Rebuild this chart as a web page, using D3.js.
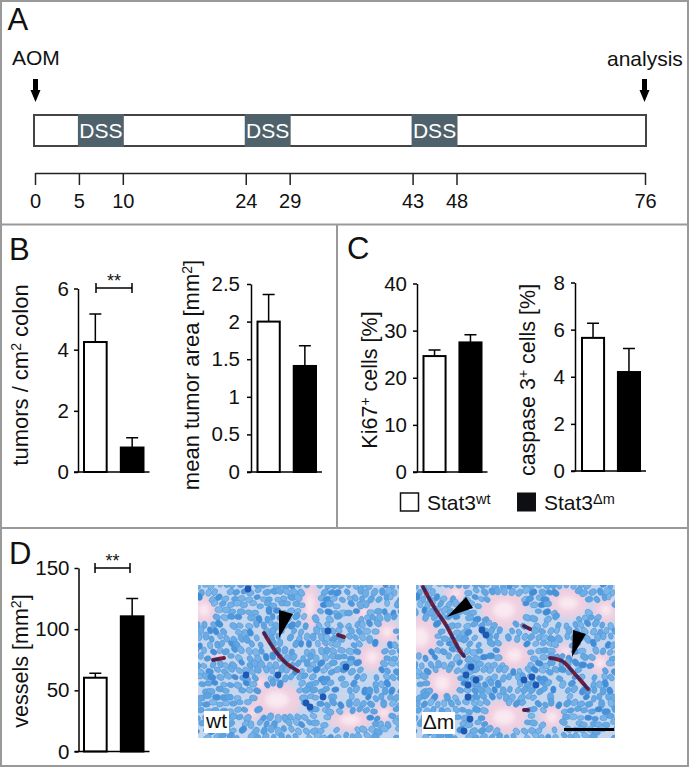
<!DOCTYPE html>
<html>
<head>
<meta charset="utf-8">
<script src="https://cdn.jsdelivr.net/npm/d3@7"></script>
<style>
  body { margin: 0; background: #fff; }
  svg { display: block; }
  text { font-family: "Liberation Sans", Arial, sans-serif; fill: #111; }
</style>
</head>
<body>
<div id="chart"></div>
<script>
// schedule
const days = [0, 5, 10, 24, 29, 43, 48, 76]
const dssCycles = [[5, 10], [24, 29], [43, 48]]

// bars, always [wt, dm]
const genotypes = ['wt', 'dm']
const tumorsMean = [4.25, 0.8]
const tumorsTop = [5.17, 1.12]
const areaMean = [2.0, 1.41]
const areaTop = [2.36, 1.68]
const ki67Mean = [24.6, 27.5]
const ki67Top = [25.9, 29.1]
const caspaseMean = [5.65, 4.2]
const caspaseTop = [6.27, 5.2]
const vesselsMean = [60.3, 110.5]
const vesselsTop = [64, 125]

// micrograph layout, px inside each photo: [cx, cy, rx, ry]
const wtLumens = [[166, 27, 6, 6], [189, 47, 9, 9], [174, 72, 11, 11], [62, 98, 6, 6], [54, 128, 5, 6], [6, 25, 10, 12], [79, 115, 22, 15], [152, 135, 18, 9], [186, 128, 8, 7], [112, 20, 6, 22], [20, 70, 4, 4], [130, 60, 3, 3]]
const dmLumens = [[4, 52, 16, 18], [88, 25, 20, 16], [152, 18, 18, 12], [98, 70, 14, 12], [26, 98, 14, 14], [88, 132, 20, 14], [136, 132, 10, 10], [184, 78, 9, 9], [190, 25, 10, 10], [40, 8, 8, 6], [150, 66, 8, 5]]
const wtVessels = [[[66, 48], [76, 64], [88, 78], [100, 86]], [[15, 75], [26, 73]], [[140, 50], [146, 52]]]
const dmVessels = [[[7, 2], [18, 22], [30, 40], [44, 66], [48, 71]], [[134, 73], [146, 76], [158, 88], [172, 104]], [[108, 41], [114, 44]], [[108, 125], [112, 125]]]
const wtDarkSpots = [[50, 4], [125, 112], [108, 118], [148, 82], [48, 90], [130, 46], [112, 122], [80, 90]]
const dmDarkSpots = [[66, 45], [50, 90], [52, 112], [54, 134], [108, 95], [116, 92], [52, 100], [48, 146], [55, 82], [60, 95], [70, 50], [120, 100]]

const width = 690
const height = 768

const svg = d3.select('#chart').append('svg')
  .attr('width', width)
  .attr('height', height)

let defs = svg.append('defs')
defs.append('filter').attr('id', 'soft')
  .attr('x', '-10%').attr('y', '-10%').attr('width', '120%').attr('height', '120%')
  .append('feGaussianBlur').attr('stdDeviation', 0.65)
defs.append('filter').attr('id', 'haze')
  .attr('x', '-30%').attr('y', '-30%').attr('width', '160%').attr('height', '160%')
  .append('feGaussianBlur').attr('stdDeviation', 2.5)

// panel frame
const frame = svg.append('g').attr('stroke', '#999').attr('stroke-width', 2).attr('fill', 'none')
frame.append('rect').attr('x', 1).attr('y', 1).attr('width', 687).attr('height', 765)
frame.append('path').attr('d', 'M1,224.5H688M1,528H688M337,224.5V528')

function letter (s, x, y) {
  svg.append('text').attr('x', x).attr('y', y).attr('font-size', 31).text(s)
}
letter('A', 7.5, 30)
letter('B', 9, 260)
letter('C', 347, 259)
letter('D', 9, 564)

// ---- A: schedule ----
const dayX = d3.scaleLinear().domain([0, 48, 76]).range([35, 456.5, 645])

svg.append('rect')
  .attr('x', 34).attr('y', 115).attr('width', 612).attr('height', 31)
  .attr('fill', '#fff').attr('stroke', '#444').attr('stroke-width', 2)

const dss = svg.append('g').selectAll('g').data(dssCycles).join('g')
dss.append('rect')
  .attr('x', d => dayX(d[0]) - 1)
  .attr('y', 114)
  .attr('width', d => dayX(d[1]) - dayX(d[0]) + 2)
  .attr('height', 33)
  .attr('fill', '#4f626c')
dss.append('text')
  .attr('x', d => (dayX(d[0]) + dayX(d[1])) / 2)
  .attr('y', 138)
  .attr('text-anchor', 'middle')
  .attr('font-size', 21)
  .style('fill', '#fff')
  .text('DSS')

const dayAxis = svg.append('g')
  .attr('transform', 'translate(0,173)')
  .call(d3.axisBottom(dayX).tickValues(days).tickFormat(d3.format('d')).tickSize(12).tickSizeOuter(0).tickPadding(9))
dayAxis.selectAll('text').attr('font-size', 20).attr('font-family', null)
dayAxis.selectAll('line,path').attr('stroke', '#222').attr('stroke-width', 1.5)

function dropArrow (x) {
  svg.append('path')
    .attr('d', `M${x - 2.5},79H${x + 2.5}V90H${x + 5}L${x},102L${x - 5},90H${x - 2.5}Z`)
    .attr('fill', '#000')
}
svg.append('text').attr('x', 12).attr('y', 65).attr('font-size', 21).text('AOM')
dropArrow(35.5)
svg.append('text').attr('x', 607).attr('y', 66).attr('font-size', 21).text('analysis')
dropArrow(644.5)

// ---- bar panels ----
function barChart (o) {
  const g = svg.append('g')
  const y = d3.scaleLinear().domain([0, o.max]).range([o.y0, o.y1])
  const x = d3.scaleBand().domain(genotypes).range([o.barLeft, o.barRight]).paddingInner(0.33)

  g.selectAll('.bar').data(genotypes).join('rect')
    .attr('class', 'bar')
    .attr('x', d => x(d) + 1)
    .attr('width', x.bandwidth() - 2)
    .attr('y', (d, i) => y(o.mean[i]))
    .attr('height', (d, i) => o.y0 - y(o.mean[i]))
    .attr('fill', d => d === 'wt' ? '#fff' : '#000')
    .attr('stroke', '#000')
    .attr('stroke-width', 2)

  g.selectAll('.err').data(genotypes).join('path')
    .attr('class', 'err')
    .attr('d', (d, i) => {
      const c = x(d) + x.bandwidth() / 2
      return `M${c},${y(o.mean[i])}V${y(o.top[i])}M${c - 6},${y(o.top[i])}H${c + 6}`
    })
    .attr('fill', 'none')
    .attr('stroke', '#000')
    .attr('stroke-width', 1.5)

  const axis = g.append('g')
    .attr('transform', `translate(${o.axisX},0)`)
    .call(d3.axisLeft(y).tickValues(o.ticks).tickFormat(d3.format('')).tickSize(4).tickSizeOuter(0).tickPadding(o.tickPad || 5))
  axis.selectAll('text').attr('font-size', 20.5).attr('font-family', null)
  axis.selectAll('line,path').attr('stroke', '#000').attr('stroke-width', 1.5)

  g.append('line')
    .attr('x1', o.axisX - 4).attr('x2', o.barRight + 5)
    .attr('y1', o.y0).attr('y2', o.y0)
    .attr('stroke', '#000').attr('stroke-width', 1.5)

  const fs = o.labelFont || 21.5
  const label = g.append('text')
    .attr('transform', `translate(${o.labelX},${o.labelY}) rotate(-90)`)
    .attr('text-anchor', 'middle')
    .attr('font-size', fs)
  o.label.forEach(part => {
    label.append('tspan')
      .attr('dy', part.sup ? -7 : (part.after ? 7 : 0))
      .attr('font-size', part.sup ? 14 : fs)
      .text(part.t)
  })

  if (o.bracket) {
    const b = o.bracket
    g.append('path')
      .attr('d', `M${b.x1},${b.y - 5}V${b.y + 5}M${b.x1},${b.y}H${b.x2}M${b.x2},${b.y - 5}V${b.y + 5}`)
      .attr('fill', 'none').attr('stroke', '#000').attr('stroke-width', 1.5)
    g.append('text')
      .attr('x', (b.x1 + b.x2) / 2).attr('y', b.y - 1)
      .attr('text-anchor', 'middle').attr('font-size', 18)
      .text('**')
  }
}

barChart({
  mean: tumorsMean, top: tumorsTop, max: 6, ticks: [0, 2, 4, 6],
  y0: 472, y1: 288.5, axisX: 78, barLeft: 83, barRight: 144.5,
  labelX: 28, labelY: 375, labelFont: 22,
  label: [{ t: 'tumors / cm' }, { t: '2', sup: true }, { t: ' colon', after: true }],
  bracket: { x1: 96, x2: 132, y: 288 }
})
barChart({
  mean: areaMean, top: areaTop, max: 2.5, ticks: [0, 0.5, 1, 1.5, 2, 2.5], tickPad: 7,
  y0: 472, y1: 284, axisX: 251, barLeft: 256.5, barRight: 317,
  labelX: 199, labelY: 375, labelFont: 22,
  label: [{ t: 'mean tumor area [mm' }, { t: '2', sup: true }, { t: ']', after: true }]
})
barChart({
  mean: ki67Mean, top: ki67Top, max: 40, ticks: [0, 10, 20, 30, 40], tickPad: 6,
  y0: 472, y1: 283.5, axisX: 417, barLeft: 422.5, barRight: 482.5,
  labelX: 377, labelY: 380,
  label: [{ t: 'Ki67' }, { t: '+', sup: true }, { t: ' cells [%]', after: true }]
})
barChart({
  mean: caspaseMean, top: caspaseTop, max: 8, ticks: [0, 2, 4, 6, 8], tickPad: 6,
  y0: 471, y1: 282.5, axisX: 575, barLeft: 581, barRight: 641,
  labelX: 535, labelY: 380,
  label: [{ t: 'caspase 3' }, { t: '+', sup: true }, { t: ' cells [%]', after: true }]
})
barChart({
  mean: vesselsMean, top: vesselsTop, max: 150, ticks: [0, 50, 100, 150],
  y0: 751.5, y1: 568, axisX: 78.5, barLeft: 83, barRight: 144.5,
  labelX: 28, labelY: 661,
  label: [{ t: 'vessels [mm' }, { t: '2', sup: true }, { t: ']', after: true }],
  bracket: { x1: 95, x2: 130, y: 568 }
})

// legend
const legend = svg.append('g')
function legendItem (x, fill, main, sup) {
  legend.append('rect').attr('x', x).attr('y', 493).attr('width', 18).attr('height', 18)
    .attr('fill', fill).attr('stroke', '#111').attr('stroke-width', fill === '#fff' ? 1.5 : 1)
  const t = legend.append('text').attr('x', x + 26.5).attr('y', 510).attr('font-size', 21)
  t.append('tspan').text(main)
  t.append('tspan').attr('dy', -6).attr('font-size', 14.5).text(sup)
}
legendItem(400.5, '#fff', 'Stat3', 'wt')
legendItem(517.5, '#0d0f14', 'Stat3', 'Δm')

// ---- D: micrographs ----
function hash (i, j, k) {
  const s = Math.sin(i * 127.1 + j * 311.7 + k * 74.7) * 43758.5453
  return s - Math.floor(s)
}

function photo (o) {
  const g = svg.append('g').attr('transform', `translate(${o.x},${o.y})`)
  const clipId = 'clip' + o.id
  defs.append('clipPath').attr('id', clipId)
    .append('rect').attr('width', o.w).attr('height', o.h)
  const inner = g.append('g').attr('clip-path', `url(#${clipId})`)

  inner.append('rect').attr('width', o.w).attr('height', o.h).attr('fill', '#c6d6ee')

  // pale lumens and stroma
  inner.append('g').attr('filter', 'url(#haze)')
    .selectAll('ellipse').data(o.lumens).join('ellipse')
    .attr('cx', d => d[0]).attr('cy', d => d[1])
    .attr('rx', d => d[2] + 3).attr('ry', d => d[3] + 3)
    .attr('fill', '#efcfe0')
  inner.append('g').attr('filter', 'url(#haze)')
    .selectAll('ellipse').data(o.lumens).join('ellipse')
    .attr('cx', d => d[0]).attr('cy', d => d[1])
    .attr('rx', d => d[2] * 0.55).attr('ry', d => d[3] * 0.55)
    .attr('fill', '#fae9f1')

  // nuclei on a jittered grid, turned along the nearest gland
  const nuclei = []
  for (let j = 0; j < 24; j++) {
    for (let i = 0; i < 30; i++) {
      const px = i * 7.2 + (j % 2) * 3.6 + (hash(i, j, 1) - 0.5) * 3.5
      const py = j * 6.6 + (hash(i, j, 2) - 0.5) * 3.5
      let best = 9
      let angle = hash(i, j, 3) * 180
      o.lumens.forEach(l => {
        const dx = (px - l[0]) / l[2]
        const dy = (py - l[1]) / l[3]
        const r = Math.sqrt(dx * dx + dy * dy)
        if (r < best) {
          best = r
          angle = Math.atan2(py - l[1], px - l[0]) * 180 / Math.PI + 90
        }
      })
      if (best < 1.05 || hash(i, j, 4) < 0.12) continue
      nuclei.push({ px, py, angle, tone: hash(i, j, 5), size: hash(i, j, 6) })
    }
  }
  const tones = d3.scaleLinear().domain([0, 0.75, 1]).range(['#7fb7e8', '#5ea4e0', '#3f8ad6'])
  const cells = inner.append('g').attr('filter', 'url(#soft)')
  cells.selectAll('ellipse').data(nuclei).join('ellipse')
    .attr('transform', d => `translate(${d.px},${d.py}) rotate(${d.angle})`)
    .attr('rx', d => 2.4 + d.size * 0.8)
    .attr('ry', d => 3.2 + d.size * 1.1)
    .attr('fill', d => tones(d.tone))
    .attr('stroke', '#4a93da')
    .attr('stroke-width', 0.5)
  cells.selectAll('circle').data(o.darkSpots).join('circle')
    .attr('cx', d => d[0]).attr('cy', d => d[1]).attr('r', 3.4)
    .attr('fill', '#1f58b4')

  // stained vessels
  const vesselLine = d3.line().curve(d3.curveCatmullRom)
  const v = inner.append('g').attr('filter', 'url(#soft)').attr('fill', 'none').attr('stroke-linecap', 'round')
  v.selectAll('.outer').data(o.vessels).join('path').attr('class', 'outer')
    .attr('d', vesselLine).attr('stroke', '#7c1f33').attr('stroke-width', 4)
    .attr('stroke-dasharray', '8 1 5 1.5')
  v.selectAll('.core').data(o.vessels).join('path').attr('class', 'core')
    .attr('d', vesselLine).attr('stroke', '#1b2f78').attr('stroke-width', 2).attr('stroke-dasharray', '5 6')

  // arrow heads
  inner.selectAll('.head').data(o.heads).join('path').attr('class', 'head')
    .attr('d', d => 'M' + d.join('L') + 'Z')
    .attr('fill', '#000')

  // label box
  inner.append('rect')
    .attr('x', o.box[0]).attr('y', o.box[1]).attr('width', o.box[2]).attr('height', o.box[3])
    .attr('fill', '#fff')
  inner.append('text')
    .attr('x', o.box[0] + o.box[2] / 2).attr('y', o.box[1] + o.box[3] - 5)
    .attr('text-anchor', 'middle').attr('font-size', 21)
    .text(o.label)
  return inner
}

photo({
  id: 'wt', x: 198, y: 585, w: 201, h: 153,
  lumens: wtLumens, vessels: wtVessels, darkSpots: wtDarkSpots,
  heads: [[[81, 25], [95, 29], [81, 53]]],
  box: [6, 126, 25, 22], label: 'wt'
})
const dmPhoto = photo({
  id: 'dm', x: 416, y: 585, w: 199, h: 153,
  lumens: dmLumens, vessels: dmVessels, darkSpots: dmDarkSpots,
  heads: [[[31, 32], [50, 12], [57, 23]], [[157, 45], [170, 49], [156, 72]]],
  box: [6, 127, 33, 22], label: 'Δm'
})
// scale bar
dmPhoto.append('rect').attr('x', 148).attr('y', 143).attr('width', 50).attr('height', 3).attr('fill', '#000')
</script>
</body>
</html>
